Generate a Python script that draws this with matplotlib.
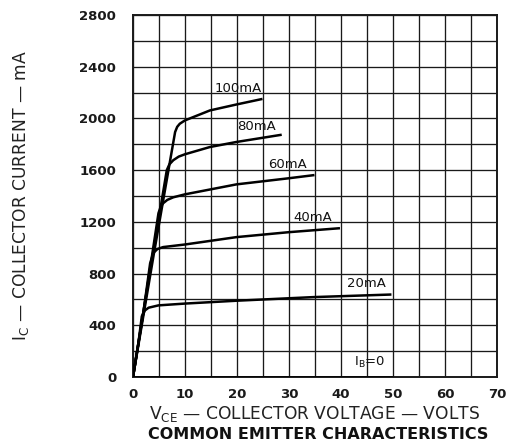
"""
Common emitter characteristics, redrawn from the datasheet scan
"""
import matplotlib
matplotlib.use("Agg")
import matplotlib.pyplot as plt

## base current curves (VCE in volts, IC in mA)
vce_20 = [0, 1.0, 1.7, 2.3, 3.0, 4.9, 10, 19.9, 34.7, 49.7]
ic_20 = [0, 250, 470, 515, 536, 554, 568, 590, 618, 638]

vce_40 = [0, 2.0, 3.3, 3.9, 4.7, 5.8, 10, 19.9, 29.9, 39.8]
ic_40 = [0, 500, 880, 959, 990, 1005, 1025, 1082, 1120, 1151]

vce_60 = [0, 2.5, 4.9, 5.3, 5.8, 6.6, 7.75, 10, 19.9, 29.9, 34.9]
ic_60 = [0, 630, 1267, 1315, 1344, 1370, 1390, 1413, 1490, 1537, 1562]

vce_80 = [0, 3.2, 6.5, 7.0, 7.75, 8.8, 10, 14.8, 19.9, 28.6]
ic_80 = [0, 800, 1600, 1645, 1677, 1705, 1723, 1779, 1818, 1874]

vce_100 = [0, 4.0, 8.1, 8.5, 9.0, 10, 14.8, 19.9, 24.9]
ic_100 = [0, 950, 1895, 1935, 1959, 1985, 2062, 2108, 2151]

vce_0 = [0, 50]
ic_0 = [0, 0]

curves = [(vce_20, ic_20), (vce_40, ic_40), (vce_60, ic_60),
          (vce_80, ic_80), (vce_100, ic_100), (vce_0, ic_0)]

labels = ["20mA", "40mA", "60mA", "80mA", "100mA"]
label_x = [44.8, 34.6, 29.8, 23.8, 20.2]
label_y = [720, 1235, 1640, 1940, 2235]

xticks = [0, 10, 20, 30, 40, 50, 60, 70]
yticks = [0, 400, 800, 1200, 1600, 2000, 2400, 2800]

fig = plt.figure(figsize=(5.07, 4.47), dpi=100)
fig.patch.set_facecolor("white")
ax = fig.add_axes([0.2623, 0.1566, 0.7180, 0.8098])

for vx, iy in curves:
    ax.plot(vx, iy, color="black", lw=1.8, solid_capstyle="butt", zorder=3)

for t, x, y in zip(labels, label_x, label_y):
    ax.text(x, y, t, fontsize=9.5, ha="center", va="center", color="#111111")
ax.text(45.5, 110, r"$\mathregular{I_B}$=0", fontsize=9.5, ha="center",
        va="center", color="#111111")

ax.set_xlim(0, 70)
ax.set_ylim(0, 2800)
ax.set_xticks(xticks)
ax.set_yticks(yticks)
ax.set_xticks(range(0, 71, 5), minor=True)
ax.set_yticks(range(0, 2801, 200), minor=True)
ax.grid(which="both", color="#1a1a1a", lw=0.95)
ax.set_axisbelow(True)
for s in ax.spines.values():
    s.set_color("#1a1a1a")
    s.set_linewidth(1.4)
ax.tick_params(which="both", length=0)
ax.tick_params(axis="x", pad=8)
ax.tick_params(axis="y", pad=12)
for lab in ax.get_xticklabels() + ax.get_yticklabels():
    lab.set_fontsize(9.5)
    lab.set_fontweight("bold")
    lab.set_color("#1a1a1a")

ax.set_ylabel(r"$\mathregular{I_C}$ — COLLECTOR CURRENT — mA", fontsize=12.3,
              color="#222222")
ax.yaxis.set_label_coords(-0.28, 0.5)
ax.set_xlabel(r"$\mathregular{V_{CE}}$ — COLLECTOR VOLTAGE — VOLTS",
              fontsize=12.3, color="#222222", labelpad=2)
fig.text(0.628, 0.027, "COMMON EMITTER CHARACTERISTICS", fontsize=11.5,
         fontweight="bold", ha="center", va="center", color="#111111")

fig.savefig("out.png", dpi=100)
